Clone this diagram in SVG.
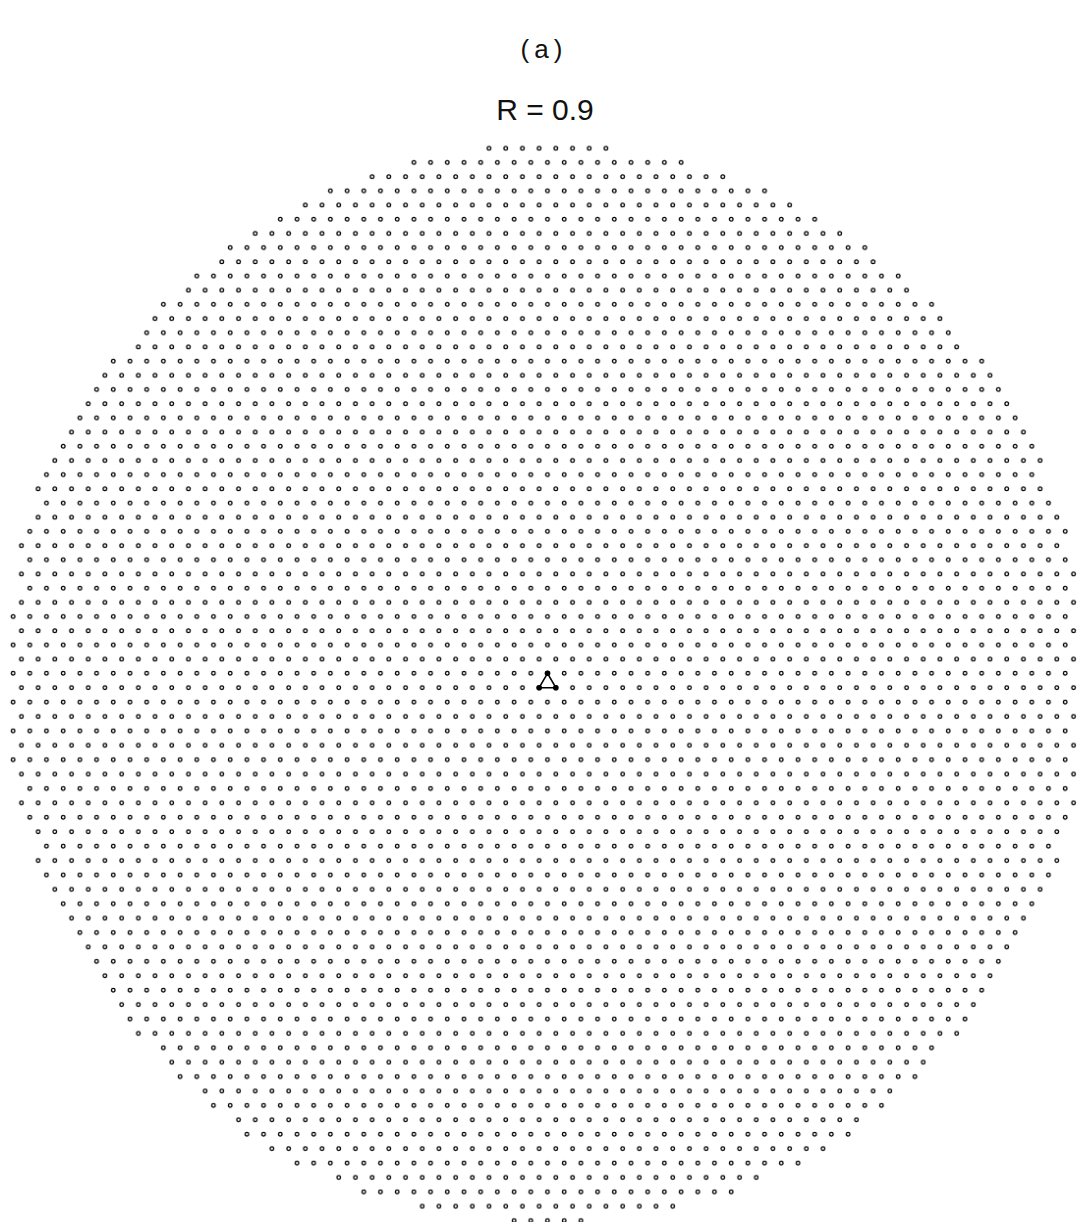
<svg xmlns="http://www.w3.org/2000/svg" width="1077" height="1222" viewBox="0 0 1077 1222">
<style>
.t{font-family:"Liberation Sans",Arial,sans-serif;fill:#111;text-anchor:middle}
.d{fill:#fff;stroke:#000;stroke-width:1.3}
</style>
<defs>
<pattern id="latA" patternUnits="userSpaceOnUse" x="543.325" y="666.205" width="16.7" height="28.38">
<circle class="d" cx="4.175" cy="7.095" r="1.8"/>
<circle class="d" cx="12.525" cy="21.285" r="1.8"/>
</pattern>
<pattern id="latB" patternUnits="userSpaceOnUse" x="543.325" y="666.0975" width="16.7" height="28.81">
<circle class="d" cx="4.175" cy="7.2025" r="1.8"/>
<circle class="d" cx="12.525" cy="21.6075" r="1.8"/>
</pattern>
</defs>
<rect width="1077" height="1222" fill="#fff"/>
<text class="t" x="544" y="58" font-size="26" letter-spacing="5">(a)</text>
<text class="t" x="545" y="120" font-size="30">R = 0.9</text>
<g id="lattice-upper" fill="url(#latA)">
<rect x="480.7" y="142.27" width="133.6" height="12"/>
<rect x="405.55" y="156.46" width="283.9" height="12"/>
<rect x="363.8" y="170.65" width="367.4" height="12"/>
<rect x="322.05" y="184.84" width="450.9" height="12"/>
<rect x="297" y="199.03" width="501" height="12"/>
<rect x="271.95" y="213.22" width="551.1" height="12"/>
<rect x="246.9" y="227.41" width="601.2" height="12"/>
<rect x="221.85" y="241.6" width="651.3" height="12"/>
<rect x="213.5" y="255.79" width="668" height="12"/>
<rect x="188.45" y="269.98" width="718.1" height="12"/>
<rect x="180.1" y="284.17" width="734.8" height="12"/>
<rect x="155.05" y="298.36" width="784.9" height="12"/>
<rect x="146.7" y="312.55" width="801.6" height="12"/>
<rect x="138.35" y="326.74" width="818.3" height="12"/>
<rect x="130" y="340.93" width="835" height="12"/>
<rect x="104.95" y="355.12" width="885.1" height="12"/>
<rect x="96.6" y="369.31" width="901.8" height="12"/>
<rect x="88.25" y="383.5" width="918.5" height="12"/>
<rect x="79.9" y="397.69" width="935.2" height="12"/>
<rect x="71.55" y="411.88" width="951.9" height="12"/>
<rect x="63.2" y="426.07" width="968.6" height="12"/>
<rect x="54.85" y="440.26" width="985.3" height="12"/>
<rect x="46.5" y="454.45" width="1002" height="12"/>
<rect x="38.15" y="468.64" width="1002" height="12"/>
<rect x="29.8" y="482.83" width="1018.7" height="12"/>
<rect x="38.15" y="497.02" width="1018.7" height="12"/>
<rect x="29.8" y="511.21" width="1035.4" height="12"/>
<rect x="21.45" y="525.4" width="1052.1" height="12"/>
<rect x="13.1" y="539.59" width="1052.1" height="12"/>
<rect x="21.45" y="553.78" width="1052.1" height="12"/>
<rect x="13.1" y="567.97" width="1068.8" height="12"/>
<rect x="21.45" y="582.16" width="1052.1" height="12"/>
<rect x="13.1" y="596.35" width="1068.8" height="12"/>
<rect x="4.75" y="610.54" width="1085.5" height="12"/>
<rect x="13.1" y="624.73" width="1068.8" height="12"/>
<rect x="4.75" y="638.92" width="1085.5" height="12"/>
<rect x="13.1" y="653.11" width="1068.8" height="12"/>
</g>
<g id="lattice-lower" fill="url(#latB)">
<rect x="4.75" y="667.3" width="1085.5" height="12"/>
<rect x="13.1" y="681.705" width="1068.8" height="12"/>
<rect x="4.75" y="696.11" width="1085.5" height="12"/>
<rect x="13.1" y="710.515" width="1068.8" height="12"/>
<rect x="4.75" y="724.92" width="1085.5" height="12"/>
<rect x="13.1" y="739.325" width="1068.8" height="12"/>
<rect x="4.75" y="753.73" width="1085.5" height="12"/>
<rect x="13.1" y="768.135" width="1068.8" height="12"/>
<rect x="21.45" y="782.54" width="1052.1" height="12"/>
<rect x="13.1" y="796.945" width="1068.8" height="12"/>
<rect x="21.45" y="811.35" width="1052.1" height="12"/>
<rect x="29.8" y="825.755" width="1035.4" height="12"/>
<rect x="38.15" y="840.16" width="1018.7" height="12"/>
<rect x="29.8" y="854.565" width="1035.4" height="12"/>
<rect x="38.15" y="868.97" width="1018.7" height="12"/>
<rect x="46.5" y="883.375" width="1002" height="12"/>
<rect x="54.85" y="897.78" width="985.3" height="12"/>
<rect x="63.2" y="912.185" width="968.6" height="12"/>
<rect x="71.55" y="926.59" width="951.9" height="12"/>
<rect x="79.9" y="940.995" width="935.2" height="12"/>
<rect x="88.25" y="955.4" width="918.5" height="12"/>
<rect x="96.6" y="969.805" width="901.8" height="12"/>
<rect x="104.95" y="984.21" width="885.1" height="12"/>
<rect x="113.3" y="998.615" width="868.4" height="12"/>
<rect x="121.65" y="1013.02" width="851.7" height="12"/>
<rect x="130" y="1027.425" width="835" height="12"/>
<rect x="155.05" y="1041.83" width="784.9" height="12"/>
<rect x="163.4" y="1056.235" width="768.2" height="12"/>
<rect x="171.75" y="1070.64" width="751.5" height="12"/>
<rect x="196.8" y="1085.045" width="701.4" height="12"/>
<rect x="205.15" y="1099.45" width="684.7" height="12"/>
<rect x="230.2" y="1113.855" width="634.6" height="12"/>
<rect x="238.55" y="1128.26" width="617.9" height="12"/>
<rect x="263.6" y="1142.665" width="567.8" height="12"/>
<rect x="288.65" y="1157.07" width="517.7" height="12"/>
<rect x="330.4" y="1171.475" width="434.2" height="12"/>
<rect x="355.45" y="1185.88" width="384.1" height="12"/>
<rect x="413.9" y="1200.285" width="267.2" height="12"/>
<rect x="505.75" y="1214.69" width="83.5" height="12"/>
</g>
<g id="triangle" stroke="#000" stroke-width="1.6" fill="#000">
<polygon points="547.5,673.3 539.15,687.705 555.85,687.705" fill="none"/>
<circle cx="547.5" cy="673.3" r="2"/>
<circle cx="539.15" cy="687.705" r="2"/>
<circle cx="555.85" cy="687.705" r="2"/>
</g>
</svg>
